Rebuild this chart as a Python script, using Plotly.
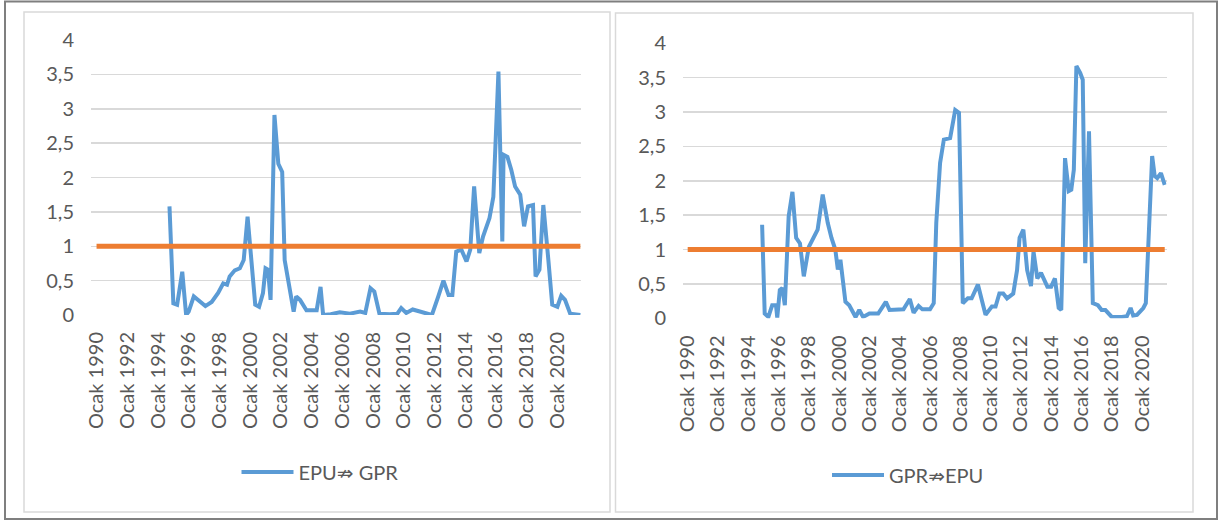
import plotly.graph_objects as go

# ---------------- data ----------------
tick_dates = ["1990-01", "1992-01", "1994-01", "1996-01", "1998-01", "2000-01",
              "2002-01", "2004-01", "2006-01", "2008-01", "2010-01", "2012-01",
              "2014-01", "2016-01", "2018-01", "2020-01"]
tick_labels = ["Ocak 1990", "Ocak 1992", "Ocak 1994", "Ocak 1996", "Ocak 1998",
               "Ocak 2000", "Ocak 2002", "Ocak 2004", "Ocak 2006", "Ocak 2008",
               "Ocak 2010", "Ocak 2012", "Ocak 2014", "Ocak 2016", "Ocak 2018",
               "Ocak 2020"]

period_first = "1990-01"
period_last = "2021-07"
threshold = 1

epu_gpr_dates = ["1994-10", "1995-01", "1995-04", "1995-08", "1995-11", "1996-01",
                 "1996-05", "1996-08", "1997-02", "1997-07", "1997-12", "1998-04",
                 "1998-07", "1998-09", "1999-01", "1999-05", "1999-08", "1999-11",
                 "2000-02", "2000-05", "2000-08", "2000-11", "2001-01", "2001-03",
                 "2001-05", "2001-08", "2001-11", "2002-02", "2002-04", "2002-11",
                 "2003-01", "2003-04", "2003-09", "2004-05", "2004-08", "2004-10",
                 "2005-04", "2005-11", "2006-07", "2007-03", "2007-07", "2007-11",
                 "2008-02", "2008-06", "2009-02", "2009-08", "2009-11", "2010-03",
                 "2010-08", "2011-02", "2011-11", "2012-04", "2012-08", "2012-12",
                 "2013-03", "2013-06", "2013-10", "2014-02", "2014-05", "2014-08",
                 "2014-12", "2015-03", "2015-06", "2015-08", "2015-11", "2016-03",
                 "2016-06", "2016-07", "2016-10", "2017-01", "2017-04", "2017-08",
                 "2017-11", "2018-02", "2018-06", "2018-08", "2018-11", "2019-02",
                 "2019-06", "2019-09", "2020-01", "2020-04", "2020-07", "2020-11",
                 "2021-07"]
epu_gpr_values = [1.58, 0.17, 0.15, 0.63, 0.0, 0.05,
                  0.27, 0.22, 0.13, 0.19, 0.32, 0.46,
                  0.44, 0.56, 0.65, 0.68, 0.8, 1.43,
                  0.75, 0.15, 0.12, 0.32, 0.68, 0.66,
                  0.22, 2.91, 2.2, 2.08, 0.8, 0.05,
                  0.27, 0.22, 0.07, 0.07, 0.41, 0.0,
                  0.01, 0.04, 0.02, 0.05, 0.03, 0.39,
                  0.34, 0.02, 0.01, 0.02, 0.1, 0.03,
                  0.08, 0.05, 0.0, 0.27, 0.5, 0.29,
                  0.29, 0.92, 0.95, 0.78, 0.95, 1.87,
                  0.9, 1.14, 1.29, 1.41, 1.72, 3.54,
                  1.07, 2.33, 2.3, 2.11, 1.87, 1.75,
                  1.29, 1.58, 1.6, 0.56, 0.66, 1.6,
                  0.8, 0.15, 0.12, 0.28, 0.22, 0.02,
                  0.0]

gpr_epu_dates = ["1994-12", "1995-02", "1995-05", "1995-08", "1995-11", "1995-12",
                 "1996-02", "1996-04", "1996-06", "1996-09", "1996-12", "1997-03",
                 "1997-06", "1997-09", "1998-01", "1998-05", "1998-08", "1998-12",
                 "1999-04", "1999-07", "1999-10", "1999-12", "2000-02", "2000-06",
                 "2000-09", "2001-02", "2001-05", "2001-08", "2002-01", "2002-08",
                 "2003-02", "2003-05", "2004-04", "2004-09", "2004-12", "2005-04",
                 "2005-07", "2006-01", "2006-04", "2006-06", "2006-09", "2006-12",
                 "2007-05", "2007-09", "2007-12", "2008-03", "2008-07", "2008-10",
                 "2009-03", "2009-06", "2009-09", "2010-02", "2010-05", "2010-08",
                 "2010-11", "2011-02", "2011-07", "2011-10", "2011-12", "2012-03",
                 "2012-06", "2012-09", "2012-11", "2013-02", "2013-05", "2013-07",
                 "2013-10", "2014-01", "2014-04", "2014-07", "2014-09", "2014-12",
                 "2015-03", "2015-05", "2015-07", "2015-09", "2015-12", "2016-02",
                 "2016-04", "2016-07", "2016-10", "2017-02", "2017-05", "2017-08",
                 "2018-01", "2018-09", "2019-01", "2019-04", "2019-06", "2019-09",
                 "2020-02", "2020-04", "2020-07", "2020-09", "2020-11", "2021-01",
                 "2021-04", "2021-07"]
gpr_epu_values = [1.36, 0.07, 0.02, 0.19, 0.19, 0.01,
                  0.41, 0.44, 0.19, 1.48, 1.84, 1.17,
                  1.09, 0.61, 1.04, 1.19, 1.29, 1.8,
                  1.39, 1.17, 1.0, 0.71, 0.85, 0.24,
                  0.19, 0.02, 0.12, 0.02, 0.07, 0.07,
                  0.24, 0.12, 0.13, 0.28, 0.08, 0.18,
                  0.13, 0.13, 0.22, 1.39, 2.26, 2.6,
                  2.62, 3.03, 2.99, 0.22, 0.29, 0.29,
                  0.49, 0.27, 0.05, 0.17, 0.17, 0.36,
                  0.36, 0.29, 0.36, 0.7, 1.17, 1.29,
                  0.7, 0.47, 0.97, 0.58, 0.66, 0.58,
                  0.46, 0.46, 0.58, 0.15, 0.12, 2.33,
                  1.85, 1.87, 2.16, 3.67, 3.57, 3.47,
                  0.8, 2.72, 0.22, 0.19, 0.12, 0.12,
                  0.02, 0.02, 0.03, 0.15, 0.04, 0.05,
                  0.15, 0.22, 1.53, 2.36, 2.07, 2.04,
                  2.11, 1.94]

name_left = "EPU\u21cf GPR"
name_right = "GPR\u21cfEPU"

# ---------------- styling ----------------
BLUE = "#5B9BD5"
ORANGE = "#ED7D31"
GRID = "#D9D9D9"
TEXT = "#595959"
FONT = "Lato, 'DejaVu Sans', sans-serif"
W, H = 1219, 521


def fx(px):
    return px / W


def fy(py):
    return 1 - py / H


fig = go.Figure()

# left panel
fig.add_trace(go.Scatter(x=epu_gpr_dates, y=epu_gpr_values, mode="lines",
                         name=name_left, line=dict(color=BLUE, width=4),
                         xaxis="x", yaxis="y", legend="legend"))
fig.add_trace(go.Scatter(x=[period_first, period_last], y=[threshold, threshold],
                         mode="lines", showlegend=False,
                         line=dict(color=ORANGE, width=5), xaxis="x", yaxis="y"))
# right panel
fig.add_trace(go.Scatter(x=gpr_epu_dates, y=gpr_epu_values, mode="lines",
                         name=name_right, line=dict(color=BLUE, width=4),
                         xaxis="x2", yaxis="y2", legend="legend2"))
fig.add_trace(go.Scatter(x=[period_first, period_last], y=[threshold, threshold],
                         mode="lines", showlegend=False,
                         line=dict(color=ORANGE, width=5), xaxis="x2", yaxis="y2"))

xcommon = dict(type="date", tickmode="array", tickvals=tick_dates, ticktext=tick_labels,
               tickangle=-90, showgrid=False, zeroline=False, showline=False,
               ticks="", tickfont=dict(family=FONT, size=20, color=TEXT),
               ticklabelstandoff=12, fixedrange=True, automargin=False)
ycommon = dict(range=[0, 4], dtick=0.5, tick0=0, showgrid=True, gridcolor=GRID,
               gridwidth=1.5, zeroline=False, showline=False, ticks="",
               tickfont=dict(family=FONT, size=20, color=TEXT),
               ticklabelstandoff=16, fixedrange=True, automargin=False)

legend_common = dict(xanchor="center", yanchor="middle", itemwidth=52,
                     font=dict(family=FONT, size=20, color=TEXT),
                     bgcolor="rgba(0,0,0,0)")

fig.update_layout(
    width=W, height=H,
    margin=dict(l=0, r=0, t=0, b=0, autoexpand=False),
    paper_bgcolor="white", plot_bgcolor="white",
    separators=",.",
    font=dict(family=FONT, color=TEXT),
    xaxis=dict(xcommon, domain=[fx(91), fx(581)], anchor="y",
               range=["1989-08-22", "2021-07-16"]),
    yaxis=dict(ycommon, domain=[fy(315), fy(40)], anchor="x"),
    xaxis2=dict(xcommon, domain=[fx(683), fx(1166.5)], anchor="y2",
                range=["1989-09-10", "2021-08-13"]),
    yaxis2=dict(ycommon, domain=[fy(318.3), fy(43.3)], anchor="x2"),
    legend=dict(legend_common, x=fx(320), y=fy(472)),
    legend2=dict(legend_common, x=fx(908), y=fy(475)),
    showlegend=True,
    shapes=[
        dict(type="rect", xref="paper", yref="paper", x0=fx(5), x1=fx(1217),
             y0=fy(519), y1=fy(1.5), line=dict(color="#7F7F7F", width=2), layer="below"),
        dict(type="rect", xref="paper", yref="paper", x0=fx(24), x1=fx(610),
             y0=fy(512), y1=fy(12), line=dict(color=GRID, width=1.5), layer="below"),
        dict(type="rect", xref="paper", yref="paper", x0=fx(615.5), x1=fx(1193),
             y0=fy(512), y1=fy(13), line=dict(color=GRID, width=1.5), layer="below"),
    ],
)

fig.write_html(
    "out.html",
    config={"displayModeBar": False, "staticPlot": True},
    post_script="document.body.style.margin='0px';"
                "document.body.style.overflow='hidden';",
)
